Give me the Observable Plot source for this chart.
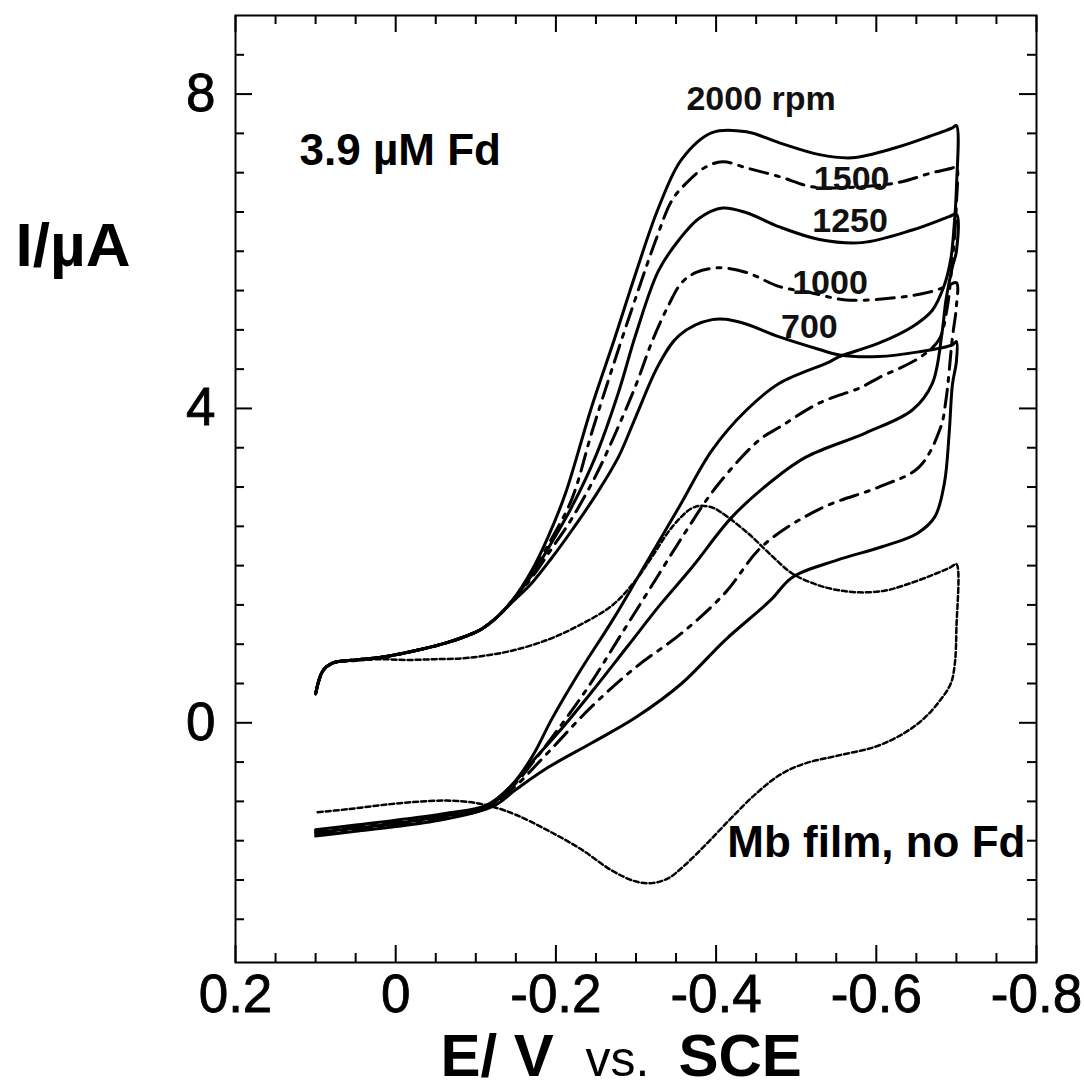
<!DOCTYPE html>
<html><head><meta charset="utf-8">
<script src="https://cdn.jsdelivr.net/npm/d3@7"></script>
<script src="https://cdn.jsdelivr.net/npm/@observablehq/plot@0.6"></script>
<style>html,body{margin:0;padding:0;background:#fff}svg{display:block}</style>
</head><body><div id="chart"></div>
<script>
// ---- axis ticks ----
const xMajorTicks = [0.2, 0, -0.2, -0.4, -0.6, -0.8];
const yMajorTicks = [0, 4, 8];
const xMinorTicks = [0.15,0.1,0.05,-0.05,-0.1,-0.15,-0.25,-0.3,-0.35,-0.45,-0.5,-0.55,-0.65,-0.7,-0.75];
const yMinorTicks = [-2.5,-2,-1.5,-1,-0.5,0.5,1,1.5,2,2.5,3,3.5,4.5,5,5.5,6,6.5,7,7.5,8.5];

// ---- series: [E (V vs SCE), I (µA)], upper branch then lower branch ----
const rpm2000 = [[0.100,0.37],[0.091,0.66],[0.079,0.76],[0.050,0.80],[0.020,0.83],[-0.021,0.91],[-0.064,1.02],[-0.105,1.18],[-0.126,1.34],[-0.146,1.56],
 [-0.17,1.94],[-0.19,2.36],[-0.212,2.92],[-0.244,4.0],[-0.273,4.88],[-0.30,5.73],[-0.328,6.55],[-0.357,7.17],[-0.395,7.51],[-0.438,7.52],[-0.479,7.38],[-0.529,7.23],[-0.570,7.19],[-0.625,7.32],[-0.666,7.46],[-0.695,7.57],[-0.70,7.6],
 [-0.70,6.8],[-0.697,6.3],[-0.693,5.9],[-0.685,5.57],[-0.670,5.25],[-0.645,5.04],[-0.603,4.83],[-0.554,4.66],[-0.541,4.59],[-0.479,4.32],[-0.438,3.98],[-0.395,3.47],[-0.354,2.75],[-0.304,1.88],[-0.271,1.31],[-0.229,0.64],[-0.195,0.05],[-0.171,-0.42],[-0.146,-0.78],[-0.113,-1.05],[-0.064,-1.15],[0.0,-1.24],[0.05,-1.30],[0.10,-1.36]];
const rpm1500 = [[0.100,0.37],[0.091,0.66],[0.079,0.76],[0.050,0.80],[0.020,0.83],[-0.021,0.91],[-0.064,1.02],[-0.105,1.18],[-0.126,1.34],[-0.146,1.56],
 [-0.17,1.91],[-0.195,2.35],[-0.22,2.85],[-0.245,3.7],[-0.27,4.5],[-0.30,5.42],[-0.325,6.15],[-0.345,6.65],[-0.363,6.87],[-0.385,7.06],[-0.408,7.14],[-0.438,7.06],[-0.479,6.95],[-0.520,6.82],[-0.562,6.81],[-0.625,6.87],[-0.670,7.00],[-0.695,7.06],[-0.70,7.08],
 [-0.70,6.6],[-0.697,6.1],[-0.695,5.89],[-0.688,5.25],[-0.678,4.87],[-0.653,4.64],[-0.603,4.39],[-0.579,4.26],[-0.529,4.07],[-0.479,3.76],[-0.454,3.60],[-0.400,3.00],[-0.36,2.40],[-0.32,1.75],[-0.28,1.10],[-0.24,0.45],[-0.20,-0.12],[-0.17,-0.52],[-0.145,-0.82],[-0.113,-1.07],[-0.064,-1.17],[0.0,-1.26],[0.05,-1.32],[0.10,-1.38]];
const rpm1250 = [[0.100,0.37],[0.091,0.66],[0.079,0.76],[0.050,0.80],[0.020,0.83],[-0.021,0.91],[-0.064,1.02],[-0.105,1.18],[-0.126,1.34],[-0.146,1.56],
 [-0.17,1.88],[-0.195,2.3],[-0.22,2.75],[-0.25,3.4],[-0.278,4.2],[-0.30,4.95],[-0.328,5.75],[-0.354,6.15],[-0.379,6.42],[-0.408,6.55],[-0.438,6.49],[-0.479,6.31],[-0.529,6.15],[-0.582,6.11],[-0.645,6.27],[-0.691,6.44],[-0.70,6.47],
 [-0.70,6.0],[-0.695,5.8],[-0.687,5.38],[-0.682,4.96],[-0.670,4.32],[-0.645,3.98],[-0.587,3.69],[-0.512,3.38],[-0.47,3.08],[-0.42,2.62],[-0.37,1.98],[-0.33,1.50],[-0.29,0.98],[-0.25,0.46],[-0.21,-0.04],[-0.17,-0.50],[-0.14,-0.85],[-0.113,-1.08],[-0.064,-1.18],[0.0,-1.28],[0.05,-1.34],[0.10,-1.40]];
const rpm1000 = [[0.100,0.37],[0.091,0.66],[0.079,0.76],[0.050,0.80],[0.020,0.83],[-0.021,0.91],[-0.064,1.02],[-0.105,1.18],[-0.126,1.34],[-0.146,1.56],
 [-0.17,1.85],[-0.195,2.22],[-0.22,2.6],[-0.25,3.15],[-0.275,3.7],[-0.30,4.3],[-0.32,4.85],[-0.34,5.3],[-0.357,5.6],[-0.375,5.73],[-0.404,5.79],[-0.438,5.73],[-0.479,5.55],[-0.520,5.47],[-0.562,5.38],[-0.625,5.41],[-0.666,5.48],[-0.687,5.55],[-0.70,5.6],
 [-0.70,5.3],[-0.695,4.9],[-0.687,4.11],[-0.680,3.75],[-0.653,3.25],[-0.603,3.0],[-0.529,2.72],[-0.458,2.25],[-0.411,1.65],[-0.357,1.14],[-0.30,0.71],[-0.244,0.20],[-0.19,-0.38],[-0.15,-0.80],[-0.113,-1.09],[-0.064,-1.20],[0.0,-1.30],[0.05,-1.36],[0.10,-1.42]];
const rpm700 = [[0.100,0.37],[0.091,0.66],[0.079,0.76],[0.050,0.80],[0.020,0.83],[-0.021,0.91],[-0.064,1.02],[-0.105,1.18],[-0.126,1.34],[-0.146,1.54],
 [-0.17,1.78],[-0.195,2.1],[-0.22,2.45],[-0.25,2.9],[-0.278,3.38],[-0.30,3.9],[-0.328,4.55],[-0.354,4.93],[-0.395,5.13],[-0.429,5.10],[-0.479,4.91],[-0.529,4.75],[-0.554,4.68],[-0.603,4.66],[-0.653,4.72],[-0.695,4.81],[-0.70,4.85],
 [-0.70,4.6],[-0.695,4.3],[-0.691,3.69],[-0.685,3.05],[-0.673,2.62],[-0.651,2.41],[-0.607,2.24],[-0.551,2.07],[-0.495,1.85],[-0.468,1.56],[-0.411,1.05],[-0.357,0.50],[-0.300,0.07],[-0.244,-0.26],[-0.190,-0.57],[-0.150,-0.85],[-0.122,-1.06],[-0.064,-1.22],[0.0,-1.32],[0.05,-1.38],[0.10,-1.44]];
const mbFilm = [[0.10,0.37],[0.091,0.66],[0.079,0.76],[0.050,0.79],[0.020,0.81],[-0.014,0.80],[-0.050,0.81],[-0.084,0.82],[-0.115,0.86],[-0.146,0.92],[-0.188,1.05],[-0.229,1.24],[-0.271,1.50],[-0.30,1.82],[-0.318,2.08],[-0.345,2.49],[-0.368,2.72],[-0.379,2.76],[-0.395,2.74],[-0.406,2.68],[-0.440,2.41],[-0.47,2.12],[-0.495,1.90],[-0.525,1.76],[-0.551,1.69],[-0.579,1.66],[-0.610,1.68],[-0.635,1.75],[-0.665,1.86],[-0.693,1.98],[-0.70,2.02],
 [-0.70,1.2],[-0.698,0.75],[-0.693,0.5],[-0.68,0.29],[-0.66,0.06],[-0.635,-0.13],[-0.60,-0.30],[-0.551,-0.42],[-0.51,-0.52],[-0.48,-0.66],[-0.45,-0.90],[-0.42,-1.20],[-0.39,-1.52],[-0.36,-1.82],[-0.34,-1.98],[-0.32,-2.04],[-0.30,-2.02],[-0.27,-1.88],[-0.23,-1.60],[-0.19,-1.37],[-0.15,-1.17],[-0.125,-1.08],[-0.10,-1.02],[-0.064,-0.99],[-0.02,-1.01],[0.02,-1.05],[0.06,-1.10],[0.10,-1.14]];

// ---- annotations (anchored in data units) ----
const rpmLabels = ["2000 rpm", "1500", "1250", "1000", "700"];
const rpmLabelE = [-0.363, -0.522, -0.520, -0.495, -0.481];
const rpmLabelI = [7.80, 6.78, 6.25, 5.45, 4.90];
const noteLabels = ["3.9 µM Fd", "Mb film, no Fd"];
const noteLabelE = [0.120, -0.414];
const noteLabelI = [7.10, -1.71];

// ---- layout ----
const W = 1084, H = 1091, mL = 235, mR = 48, mT = 15, mB = 129;
const plotW = W - mL - mR, plotH = H - mT - mB;
const FONT = "'Liberation Sans', Arial, Helvetica, sans-serif";

const dashDot = "18,8,4,8";
const toRows = arr => arr.map(([E, I]) => ({E, I}));
const rpmRows = rpmLabels.map((t, i) => ({t, E: rpmLabelE[i], I: rpmLabelI[i]}));
const noteRows = noteLabels.map((t, i) => ({t, E: noteLabelE[i], I: noteLabelI[i]}));

const lineOpts = {x: "E", y: "I", stroke: "black", curve: "catmull-rom", strokeLinejoin: "round"};
const titleOpts = {text: d => d, textAnchor: "start", lineAnchor: "bottom", fill: "black"};

const chart = Plot.plot({
  width: W, height: H,
  marginLeft: mL, marginRight: mR, marginTop: mT, marginBottom: mB,
  style: {fontFamily: FONT, fontSize: "53px", color: "black", background: "white", overflow: "visible"},
  x: {domain: [0.2, -0.8], ticks: xMajorTicks, tickSize: 0, tickPadding: 12,
      tickFormat: d => d === 0 ? "0" : String(d), label: null},
  y: {domain: [-3.05, 9], ticks: yMajorTicks, tickSize: 0, tickPadding: 20, label: null},
  marks: [
    // inward ticks on all four sides
    Plot.tickX(xMinorTicks, {x: d => d, insetTop: plotH - 9, strokeWidth: 2}),
    Plot.tickX(xMinorTicks, {x: d => d, insetBottom: plotH - 9, strokeWidth: 2}),
    Plot.tickX(xMajorTicks, {x: d => d, insetTop: plotH - 17, strokeWidth: 2}),
    Plot.tickX(xMajorTicks, {x: d => d, insetBottom: plotH - 17, strokeWidth: 2}),
    Plot.tickY(yMinorTicks, {y: d => d, insetRight: plotW - 9, strokeWidth: 2}),
    Plot.tickY(yMinorTicks, {y: d => d, insetLeft: plotW - 9, strokeWidth: 2}),
    Plot.tickY(yMajorTicks, {y: d => d, insetRight: plotW - 17, strokeWidth: 2}),
    Plot.tickY(yMajorTicks, {y: d => d, insetLeft: plotW - 17, strokeWidth: 2}),
    Plot.frame({stroke: "black", strokeWidth: 2}),
    // curves
    Plot.line(toRows(mbFilm), {...lineOpts, strokeWidth: 2.5, strokeDasharray: "5,3"}),
    Plot.line(toRows(rpm700), {...lineOpts, strokeWidth: 3}),
    Plot.line(toRows(rpm1000), {...lineOpts, strokeWidth: 3, strokeDasharray: dashDot}),
    Plot.line(toRows(rpm1250), {...lineOpts, strokeWidth: 3}),
    Plot.line(toRows(rpm1500), {...lineOpts, strokeWidth: 3, strokeDasharray: dashDot}),
    Plot.line(toRows(rpm2000), {...lineOpts, strokeWidth: 3}),
    // labels
    Plot.text(rpmRows, {x: "E", y: "I", text: "t", textAnchor: "start", lineAnchor: "bottom",
      fontSize: 34, fontWeight: "bold", fill: "#111"}),
    Plot.text(noteRows, {x: "E", y: "I", text: "t", textAnchor: "start", lineAnchor: "bottom",
      fontSize: 44, fontWeight: "bold", fill: "black"}),
    // axis titles
    Plot.text(["I/µA"], {...titleOpts, frameAnchor: "top-left", dx: -220, dy: 250, fontSize: 62, fontWeight: "bold"}),
    Plot.text(["E/ V"], {...titleOpts, frameAnchor: "bottom-left", dx: 205, dy: 113, fontSize: 60, fontWeight: "bold"}),
    Plot.text(["vs."], {...titleOpts, frameAnchor: "bottom-left", dx: 350, dy: 113, fontSize: 50, fontWeight: "normal"}),
    Plot.text(["SCE"], {...titleOpts, frameAnchor: "bottom-left", dx: 443, dy: 113, fontSize: 60, fontWeight: "bold"})
  ]
});
// slightly heavier tick labels, as in the original
d3.select(chart).selectAll("[aria-label='x-axis tick label'] text, [aria-label='y-axis tick label'] text, [aria-label='x-axis'] text, [aria-label='y-axis'] text")
  .attr("stroke", "black").attr("stroke-width", 0.8);
document.getElementById("chart").appendChild(chart);
</script>
</body></html>
